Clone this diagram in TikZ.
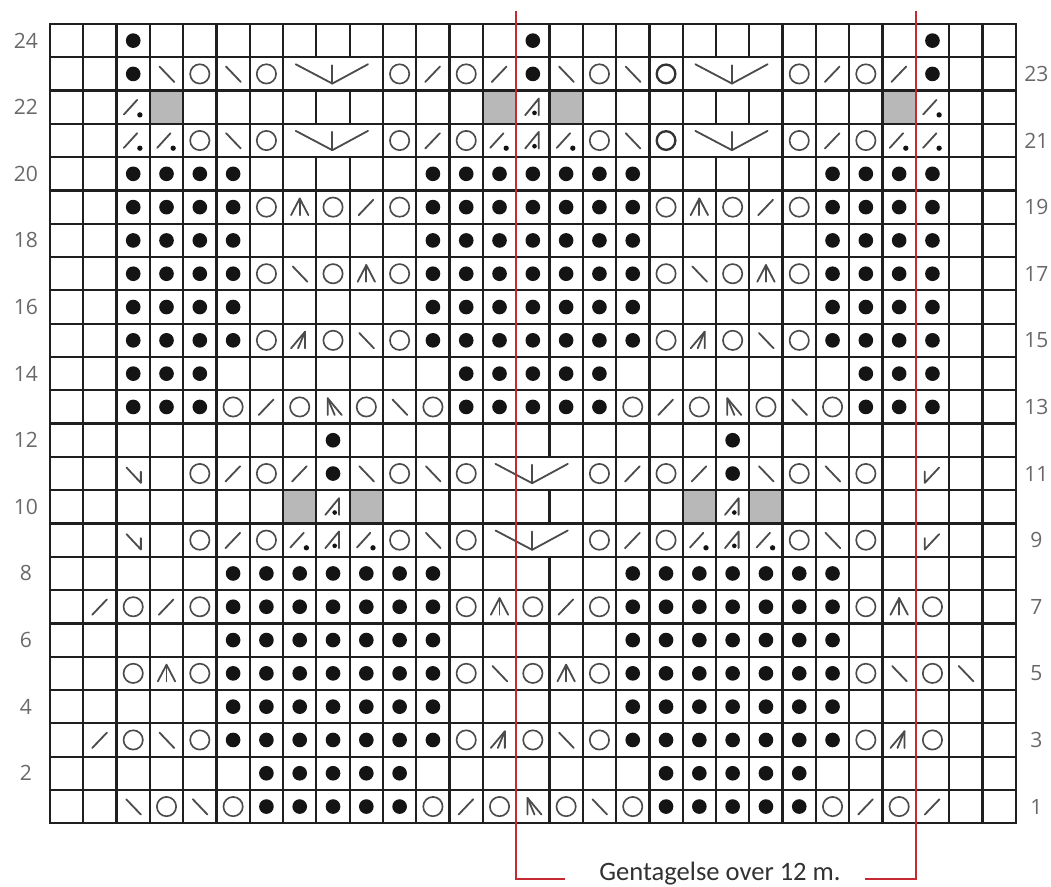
\documentclass[tikz,border=0pt]{standalone}
\usepackage{fontspec}
\newfontfamily\numfont{Open Sans}
\newfontfamily\labfont{Carlito}
\definecolor{chartred}{RGB}{198,40,52}
\definecolor{symgray}{RGB}{75,75,75}
\definecolor{cellgray}{RGB}{184,184,184}
\definecolor{numgray}{RGB}{105,105,105}
\definecolor{labgray}{RGB}{50,50,50}
\newcommand{\sDot}{\fill[black!92] (0.5,0.5) circle (0.22);}
\newcommand{\sRing}{\draw[ring] (0.5,0.5) circle (0.29);}
\newcommand{\sRingBold}{\draw[ring,line width=2pt,draw=black!80] (0.5,0.5) circle (0.28);}
\newcommand{\sSlash}{\draw[symline] (0.27,0.26) -- (0.71,0.72);}
\newcommand{\sBack}{\draw[symline] (0.29,0.72) -- (0.73,0.26);}
\newcommand{\sSlashDot}{\draw[symline] (0.22,0.28) -- (0.62,0.72); \fill[black!92] (0.7,0.27) circle (0.08);}
\newcommand{\sAdot}{\draw[symline] (0.27,0.26) -- (0.68,0.76) -- (0.68,0.26); \fill[black!92] (0.55,0.33) circle (0.07);}
\newcommand{\sUp}{\draw[symline] (0.24,0.26) -- (0.5,0.76) -- (0.76,0.26); \draw[symline] (0.5,0.76) -- (0.5,0.26);}
\newcommand{\sRthree}{\draw[symline] (0.24,0.26) -- (0.66,0.76) -- (0.66,0.26); \draw[symline] (0.66,0.76) -- (0.45,0.26);}
\newcommand{\sLthree}{\draw[symline] (0.76,0.26) -- (0.34,0.76) -- (0.34,0.26); \draw[symline] (0.34,0.76) -- (0.55,0.26);}
\newcommand{\sBig}{\draw[symline] (0.38,0.79) -- (1.48,0.21) -- (2.55,0.79); \draw[symline] (1.48,0.21) -- (1.48,0.76);}
\newcommand{\sLedge}{\draw[symline] (0.3,0.68) -- (0.73,0.22) -- (0.73,0.56);}
\newcommand{\sRedge}{\draw[symline] (0.7,0.68) -- (0.27,0.22) -- (0.27,0.56);}
\newcommand{\putrow}[3]{\foreach \rr in {#2}{\foreach \cc in {#3}{\begin{scope}[shift={(\cc-1,\rr-1)}]#1\end{scope}}}}
\begin{document}
\begin{tikzpicture}[x=1cm,y=1cm,
  gridline/.style={line width=1.9pt, draw=black!88, line cap=rect},
  symline/.style={line width=1.55pt, draw=symgray, line cap=round, line join=round},
  ring/.style={line width=1.4pt, draw=symgray},
  redline/.style={line width=2.1pt, draw=chartred},
  rownum/.style={font=\numfont\fontsize{18}{20}\selectfont, text=numgray, inner sep=0pt},
  replabel/.style={font=\labfont\fontsize{22.7}{26}\selectfont, text=labgray, inner sep=0pt, anchor=base}]
\useasboundingbox (-1.5,-1.89) rectangle (30.06,24.72);
% grey cells
\putrow{\fill[cellgray] (0,0) rectangle (1,1);}{22}{4,14,16,26}
\putrow{\fill[cellgray] (0,0) rectangle (1,1);}{10}{8,10,20,22}
% grid
\foreach \y in {0,...,24} \draw[gridline] (0,\y) -- (29,\y);
\foreach \x in {0,1,2,3,4,5,6,7,10,11,12,13,16,17,18,19,22,23,24,25,26,27,28,29} \draw[gridline] (\x,0) -- (\x,24);
\foreach \x in {8,9,20,21} {\draw[gridline] (\x,0) -- (\x,20); \draw[gridline] (\x,21) -- (\x,22); \draw[gridline] (\x,23) -- (\x,24);}
\foreach \x in {14,15} {\draw[gridline] (\x,0) -- (\x,8); \draw[gridline] (\x,9) -- (\x,10); \draw[gridline] (\x,11) -- (\x,24);}
% purl dots
\putrow{\sDot}{23,24}{3,15,27}
\putrow{\sDot}{15,16,17,18,19,20}{3,4,5,6,12,13,14,15,16,17,18,24,25,26,27}
\putrow{\sDot}{13,14}{3,4,5,13,14,15,16,17,25,26,27}
\putrow{\sDot}{11,12}{9,21}
\putrow{\sDot}{3,4,5,6,7,8}{6,7,8,9,10,11,12,18,19,20,21,22,23,24}
\putrow{\sDot}{1,2}{7,8,9,10,11,19,20,21,22,23}
% yarn overs
\putrow{\sRing}{9,11,21,23}{5,7,11,13,17,23,25}
\putrow{\sRing}{9,11}{19}
\putrow{\sRingBold}{21,23}{19}
\putrow{\sRing}{15,17,19}{7,9,11,19,21,23}
\putrow{\sRing}{13}{6,8,10,12,18,20,22,24}
\putrow{\sRing}{3,5,7}{3,5,13,15,17,25,27}
\putrow{\sRing}{1}{4,6,12,14,16,18,24,26}
% slashes
\putrow{\sSlash}{23}{12,14,24,26}
\putrow{\sSlash}{21}{12,24}
\putrow{\sSlash}{19}{10,22}
\putrow{\sSlash}{13}{7,19}
\putrow{\sSlash}{11}{6,8,18,20}
\putrow{\sSlash}{9}{6,18}
\putrow{\sSlash}{7}{2,4,16}
\putrow{\sSlash}{3}{2}
\putrow{\sSlash}{1}{13,25,27}
% backslashes
\putrow{\sBack}{23}{4,6,16,18}
\putrow{\sBack}{21}{6,18}
\putrow{\sBack}{17}{8,20}
\putrow{\sBack}{15}{10,22}
\putrow{\sBack}{13}{11,23}
\putrow{\sBack}{11}{10,12,22,24}
\putrow{\sBack}{9}{12,24}
\putrow{\sBack}{5}{14,26,28}
\putrow{\sBack}{3}{4,16}
\putrow{\sBack}{1}{3,5,17}
% slash with dot
\putrow{\sSlashDot}{22}{3,27}
\putrow{\sSlashDot}{21}{3,4,14,16,26,27}
\putrow{\sSlashDot}{9}{8,10,20,22}
\putrow{\sAdot}{21,22}{15}
\putrow{\sAdot}{9,10}{9,21}
% triple decreases
\putrow{\sUp}{19}{8,20}
\putrow{\sUp}{17}{10,22}
\putrow{\sUp}{7}{14,26}
\putrow{\sUp}{5}{4,16}
\putrow{\sRthree}{15}{8,20}
\putrow{\sRthree}{3}{14,26}
\putrow{\sLthree}{13}{9,21}
\putrow{\sLthree}{1}{15}
\putrow{\sBig}{21,23}{8,20}
\putrow{\sBig}{9,11}{14}
\putrow{\sLedge}{9,11}{3}
\putrow{\sRedge}{9,11}{27}
% repeat bracket
\coordinate (rlt) at (14,24.38);
\coordinate (rlb) at (14,-1.68);
\coordinate (rle) at (15.47,-1.68);
\coordinate (rrt) at (26,24.38);
\coordinate (rrb) at (26,-1.68);
\coordinate (rre) at (24.47,-1.68);
\draw[redline] (rlt) -- (rlb) -- (rle);
\draw[redline] (rrt) -- (rrb) -- (rre);
\node[replabel] (rep) at (20.12,-1.72) {Gentagelse over 12 m.};
% row numbers
\foreach \n in {2,4,...,24} \node[rownum] (L\n) at (-0.72,\n-0.5) {\n};
\foreach \n in {1,3,...,23} \node[rownum] (R\n) at (29.62,\n-0.5) {\n};
\end{tikzpicture}
\end{document}
